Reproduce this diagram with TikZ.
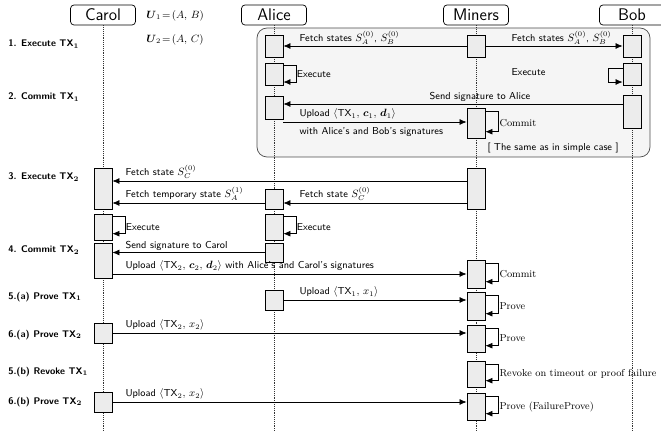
\documentclass[tikz,border=0pt]{standalone}
\usepackage{amsmath}
\usetikzlibrary{arrows.meta,positioning}

\begin{document}
\begin{tikzpicture}[x=0.03cm, y=-0.03cm, >={Latex[length=6pt,width=5pt]},
    actor/.style={draw, semithick, rounded corners=3pt, minimum width=1.95cm, minimum height=0.6cm, font=\Large\sffamily},
    act/.style={draw, semithick, fill=gray!15, minimum width=0.54cm, inner sep=0pt},
    lifeline/.style={densely dotted, black!80},
    msg/.style={font=\fontsize{8.6}{10}\selectfont\sffamily, inner sep=1pt},
    selflbl/.style={font=\fontsize{8.6}{10}\selectfont\rmfamily, inner sep=1pt},
    steplbl/.style={font=\fontsize{8.2}{10}\selectfont\sffamily\bfseries, anchor=west},
    every path/.append style={semithick}]
    \useasboundingbox (0,0) rectangle (661,432);
    % shared part with the simple case
    \draw [draw=gray!60!black, fill=gray!8, rounded corners=0.3cm] (257,28) rectangle (650,157);
    % actors and lifelines
    \node [actor] (carol) at (103,15) {Carol};
    \node [actor] (alice) at (274,15) {Alice};
    \node [actor] (miners) at (476,15) {Miners};
    \node [actor] (bob) at (632,15) {Bob};
    \draw [lifeline] (carol) -- (carol |- 0,432);
    \draw [lifeline] (alice) -- (alice |- 0,432);
    \draw [lifeline] (miners) -- (miners |- 0,432);
    \draw [lifeline] (bob) -- (bob |- 0,432);
    \node [font=\small, anchor=west] (u1) at (142,16) {$\boldsymbol{U}_1\!=\!(A,\,B)$};
    \node [font=\small, anchor=west] (u2) at (142,40) {$\boldsymbol{U}_2\!=\!(A,\,C)$};
    % steps
    \node [steplbl] (s1) at (4,44) {1. Execute TX$_{\mathbf{1}}$};
    \node [steplbl] (s2) at (4,97) {2. Commit TX$_{\mathbf{1}}$};
    \node [steplbl] (s3) at (4,177) {3. Execute TX$_{\mathbf{2}}$};
    \node [steplbl] (s4) at (4,250) {4. Commit TX$_{\mathbf{2}}$};
    \node [steplbl] (s5a) at (4,297) {5.(a) Prove TX$_{\mathbf{1}}$};
    \node [steplbl] (s6a) at (4,335) {6.(a) Prove TX$_{\mathbf{2}}$};
    \node [steplbl] (s5b) at (4,372) {5.(b) Revoke TX$_{\mathbf{1}}$};
    \node [steplbl] (s6b) at (4,402) {6.(b) Prove TX$_{\mathbf{2}}$};
    % call boxes
    \node [act, minimum height=0.66cm] (a1) at (274,46) {};
    \node [act, minimum height=0.66cm] (m1) at (476,46) {};
    \node [act, minimum height=0.66cm] (b1) at (632,46) {};
    \node [act, minimum height=0.66cm] (a2) at (274,74) {};
    \node [act, minimum height=0.66cm] (b2) at (632,74) {};
    \node [act, minimum height=0.69cm] (a3) at (274,107.5) {};
    \node [act, minimum height=0.99cm] (b3) at (632,111.5) {};
    \node [act, minimum height=0.9cm] (m3) at (476,123) {};
    \node [act, minimum height=1.23cm] (c1) at (103,188.5) {};
    \node [act, minimum height=1.23cm] (m4) at (476,188.5) {};
    \node [act, minimum height=0.6cm] (a4) at (274,199) {};
    \node [act, minimum height=0.78cm] (c2) at (103,227) {};
    \node [act, minimum height=0.78cm] (a5) at (274,227) {};
    \node [act, minimum height=1.05cm] (c3) at (103,260.5) {};
    \node [act, minimum height=0.57cm] (a6) at (274,252.5) {};
    \node [act, minimum height=0.84cm] (m5) at (476,274) {};
    \node [act, minimum height=0.6cm] (a7) at (274,300) {};
    \node [act, minimum height=0.84cm] (m6) at (476,306) {};
    \node [act, minimum height=0.6cm] (c4) at (103,333) {};
    \node [act, minimum height=0.81cm] (m7) at (476,338.5) {};
    \node [act, minimum height=0.78cm] (m8) at (476,374) {};
    \node [act, minimum height=0.6cm] (c5) at (103,402) {};
    \node [act, minimum height=0.81cm] (m9) at (476,406.5) {};
    % 1. execute TX1
    \draw [->] (m1) -- (a1);
    \node [msg, anchor=south west] at (298,46) {Fetch states $S_A^{(0)}$, $S_B^{(0)}$};
    \draw [->] (m1) -- (b1);
    \node [msg, anchor=south west] at (510,46) {Fetch states $S_A^{(0)}$, $S_B^{(0)}$};
    \draw [->] ([yshift=-0.09cm]a2.north east) -- ++(13,0) |- ([yshift=0.1cm]a2.south east);
    \node [msg, right=0.36cm of a2.east] {Execute};
    \draw [->] ([yshift=-0.18cm]b2.north west) -- ++(-14,0) |- ([yshift=0.1cm]b2.south west);
    \node [msg, anchor=west] at (510,72) {Execute};
    % 2. commit TX1
    \draw [->] (b3.west |- 0,104) -- (a3.east |- 0,104);
    \node [msg, anchor=south] at (480,103) {Send signature to Alice};
    \draw [->] (a3.east |- 0,122) -- (m3.west |- 0,122);
    \node [msg, anchor=south west] at (298,121) {Upload $\langle\textsf{TX}_1,\,\boldsymbol{c}_1,\,\boldsymbol{d}_1\rangle$};
    \node [msg, anchor=west] at (298,132) {with Alice's and Bob's signatures};
    \draw [->] ([yshift=-0.12cm]m3.north east) -- ++(13,0) |- ([yshift=0.2cm]m3.south east);
    \node [selflbl, right=0.38cm of m3.east] {Commit};
    \node [msg, anchor=west] at (486,148) {[ The same as in simple case ]};
    % 3. execute TX2
    \draw [->] (m4.west |- 0,181) -- (c1.east |- 0,181);
    \node [msg, anchor=south west] at (124,180) {Fetch state $S_C^{(0)}$};
    \draw [->] (a4.west |- 0,203) -- (c1.east |- 0,203);
    \node [msg, anchor=south west] at (124,202) {Fetch temporary state $S_A^{(1)}$};
    \draw [->] (m4.west |- 0,203) -- (a4.east |- 0,203);
    \node [msg, anchor=south west] at (298,202) {Fetch state $S_C^{(0)}$};
    \draw [->] ([yshift=-0.09cm]c2.north east) -- ++(13,0) |- ([yshift=0.2cm]c2.south east);
    \node [msg, right=0.36cm of c2.east] {Execute};
    \draw [->] ([yshift=-0.09cm]a5.north east) -- ++(13,0) |- ([yshift=0.2cm]a5.south east);
    \node [msg, right=0.36cm of a5.east] {Execute};
    % 4. commit TX2
    \draw [->] (a6.west) -- (c3.east |- a6.west);
    \node [msg, anchor=south west] at (124,252) {Send signature to Carol};
    \draw [->] (c3.east |- m5.west) -- (m5.west);
    \node [msg, anchor=south west] at (124,273) {Upload $\langle\textsf{TX}_2,\,\boldsymbol{c}_2,\,\boldsymbol{d}_2\rangle$ with Alice's and Carol's signatures};
    \draw [->] ([yshift=-0.12cm]m5.north east) -- ++(13,0) |- ([yshift=0.2cm]m5.south east);
    \node [selflbl, right=0.38cm of m5.east] {Commit};
    % 5.(a) and 6.(a)
    \draw [->] (a7.east) -- (m6.west |- a7.east);
    \node [msg, anchor=south west] at (298,299) {Upload $\langle\textsf{TX}_1,\,x_1\rangle$};
    \draw [->] ([yshift=-0.12cm]m6.north east) -- ++(13,0) |- ([yshift=0.2cm]m6.south east);
    \node [selflbl, right=0.38cm of m6.east] {Prove};
    \draw [->] (c4.east) -- (m7.west |- c4.east);
    \node [msg, anchor=south west] at (124,332) {Upload $\langle\textsf{TX}_2,\,x_2\rangle$};
    \draw [->] ([yshift=-0.12cm]m7.north east) -- ++(13,0) |- ([yshift=0.2cm]m7.south east);
    \node [selflbl, right=0.38cm of m7.east] {Prove};
    % 5.(b) and 6.(b)
    \draw [->] ([yshift=-0.12cm]m8.north east) -- ++(13,0) |- ([yshift=0.2cm]m8.south east);
    \node [selflbl, right=0.38cm of m8.east] {Revoke on timeout or proof failure};
    \draw [->] (c5.east) -- (m9.west |- c5.east);
    \node [msg, anchor=south west] at (124,401) {Upload $\langle\textsf{TX}_2,\,x_2\rangle$};
    \draw [->] ([yshift=-0.12cm]m9.north east) -- ++(13,0) |- ([yshift=0.2cm]m9.south east);
    \node [selflbl, right=0.38cm of m9.east] {Prove (FailureProve)};
\end{tikzpicture}
\end{document}
